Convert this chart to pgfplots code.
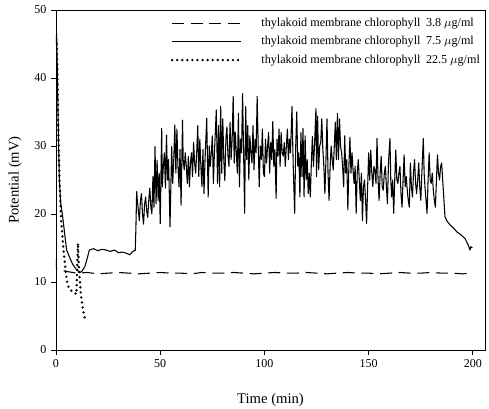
\documentclass[border=0pt]{standalone}
\usepackage{pgfplots}
\pgfplotsset{compat=1.18}
\usepackage{fontspec}
\setmainfont{Liberation Serif}

% chlorophyll 3.8 ug/ml
\newcommand{\lowdata}{
(0,13.5) (0.3,11.8) (3,11.7) (6,11.5) (10,11.3) (15,11.4) (20,11.2) (25,11.3)
(30,11.4) (35,11.3) (40,11.2) (45,11.3) (50,11.4) (55,11.3) (60,11.3) (65,11.2)
(70,11.4) (75,11.3) (80,11.3) (85,11.4) (90,11.3) (95,11.2) (100,11.3) (105,11.4)
(110,11.3) (115,11.3) (120,11.4) (125,11.3) (130,11.2) (135,11.3) (140,11.4)
(145,11.3) (150,11.3) (155,11.2) (160,11.3) (165,11.4) (170,11.3) (175,11.3)
(180,11.4) (185,11.3) (190,11.3) (195,11.2) (200,11.3)
}

% chlorophyll 7.5 ug/ml
\newcommand{\middata}{
(0,45) (0.3,46.6) (0.8,38) (1.2,31) (1.6,25) (2.3,21.5) (3.2,19.6) (4.2,17)
(5.1,14.7) (6.7,13.5) (8,12.6) (9.9,11.8) (11.5,11.4) (12.5,11.6) (13.9,12.3)
(15,13.5) (16,14.7) (18,14.9) (20,14.6) (22,14.8) (24,14.7) (26,14.5) (28,14.7)
(30,14.3) (32,14.4) (34,14.2) (35.5,14.0) (36.5,14.4) (37.5,14.6) (38,14.6)
(38.3,17.5) (38.7,23.3) (39,22.0) (39.5,20.5) (40,19.0) (40.5,22.0) (41,23.0)
(41.5,20.0) (42,18.5) (42.5,21.5) (43,22.5) (43.5,20.5) (44,19.5) (44.5,22.0)
(45,23.8) (45.5,21.0) (46,20.0) (46.5,25.5) (47,21.0) (47.5,29.9) (48,21.5)
(48.5,27.9) (49,22.0) (49.5,26.0) (50,18.6) (50.7,32.6) (51,24.0) (51.5,27.0)
(52,29.0) (52.5,23.8) (53,31.6) (53.5,25.0) (54,28.0) (54.7,18.1) (55.5,29.9)
(56,24.5) (56.5,28.0) (57,33.1) (57.5,26.0) (58,32.5) (58.5,27.0) (59,24.0)
(59.5,29.5) (60,21.3) (60.7,33.8) (61,28.0) (61.5,26.5) (62,29.0) (62.5,27.0)
(63,24.5) (63.5,28.5) (64,24.0) (64.5,27.5) (65,29.0) (65.5,25.5) (66,30.5)
(66.5,27.5) (67,26.0) (67.5,29.0) (68,33.0) (68.5,25.5) (69,31.0) (69.5,27.0)
(70,24.0) (70.5,29.5) (71,23.0) (71.5,28.0) (72.3,34.1) (73,22.5) (73.5,30.0)
(74,27.0) (74.5,29.0) (75,31.5) (75.5,24.5) (76,29.0) (76.9,35.3) (77.5,24.5)
(78,33.0) (78.5,24.0) (79,35.8) (79.5,26.0) (80,34.0) (80.5,28.0) (81,24.9)
(81.5,31.0) (82,32.8) (82.5,28.5) (83,27.0) (83.5,33.5) (84,28.0) (84.5,31.0)
(85,37.3) (85.5,27.5) (86,32.0) (86.5,29.0) (87,26.0) (87.5,34.8) (88,24.0)
(88.5,31.0) (89,29.0) (89.5,37.7) (90.5,20.1) (91,35.8) (91.5,28.0) (92,33.0)
(92.5,25.0) (93,31.5) (93.5,29.0) (94,27.5) (94.5,33.0) (95,26.5) (95.5,31.0)
(96,29.0) (96.5,37.3) (97,30.0) (97.5,24.0) (98,30.0) (98.5,28.0) (99,32.5)
(99.5,26.0) (100,25.5) (100.5,31.0) (101,27.5) (101.5,30.0) (102,32.0)
(102.5,26.0) (103,30.5) (103.5,28.0) (104,33.6) (104.5,27.0) (105,29.5)
(105.6,22.3) (106,31.0) (106.5,28.5) (107,32.5) (107.5,27.0) (108,32.0)
(108.5,29.0) (109,28.5) (109.5,30.5) (110,27.0) (110.5,30.0) (111,32.5)
(111.5,28.0) (112,31.0) (112.5,29.0) (113.2,35.8) (113.8,27.0) (114.5,20.1)
(115,30.0) (115.5,35.0) (116,27.0) (116.5,29.0) (117,22.5) (117.5,32.0)
(118,25.5) (118.5,32.6) (119,22.5) (119.5,31.5) (120,25.0) (120.5,28.0)
(121,23.0) (121.5,26.0) (122,22.5) (122.5,27.5) (123,31.4) (123.5,27.0)
(124,30.0) (124.7,35.5) (125,25.5) (125.5,34.4) (126,26.5) (126.5,30.0)
(127,30.5) (127.5,34.0) (128,29.5) (128.5,27.0) (129,23.0) (129.5,28.0)
(130,34.0) (130.5,26.0) (131,22.0) (131.5,27.0) (132,30.0) (132.5,28.0)
(133,26.5) (133.5,30.0) (134,33.5) (134.5,28.0) (135,34.8) (135.5,28.0)
(136,34.0) (136.5,30.0) (137,29.0) (137.5,27.0) (138,24.0) (138.5,31.5)
(139,26.0) (139.5,28.0) (140,20.6) (140.5,27.0) (141,31.3) (141.5,26.0)
(142,29.0) (142.5,26.5) (143,24.5) (143.5,27.0) (144,20.1) (144.5,26.0)
(145,28.0) (145.5,25.0) (146,22.0) (146.5,26.0) (147,19.0) (147.5,24.0)
(148,25.0) (148.5,22.0) (149,18.6) (149.5,24.0) (150,29.0) (150.5,25.0)
(151,29.4) (151.5,26.0) (152,24.0) (152.5,27.0) (153,26.5) (153.5,24.5)
(154,31.1) (154.5,25.0) (155,22.0) (155.5,26.0) (156,28.5) (156.5,24.0)
(157,23.5) (157.5,26.0) (158,27.0) (158.5,24.0) (159,21.5) (159.5,27.5)
(160.2,31.1) (160.6,25.0) (161,22.5) (161.5,25.0) (162,20.1) (162.5,25.0)
(163,29.4) (163.5,25.0) (164,24.5) (164.5,26.0) (165,27.0) (165.5,23.0)
(166,21.0) (166.5,25.0) (167,28.7) (167.5,24.0) (168,25.5) (168.5,23.5)
(169,22.0) (169.5,21.0) (170,27.5) (170.5,24.0) (171,22.5) (171.5,26.0)
(172,28.0) (172.5,24.5) (173,23.0) (173.5,25.0) (174,27.5) (174.5,24.0)
(175,22.0) (175.5,26.0) (176.2,31.1) (176.6,26.0) (177,24.0) (177.5,22.0)
(178,20.1) (178.5,25.0) (179,29.0) (179.5,25.0) (180,24.5) (180.5,26.0)
(181,23.5) (181.5,22.0) (182,21.0) (182.5,25.0) (183,28.7) (183.5,26.0)
(184,25.0) (184.5,27.0) (185,27.5) (185.8,23.5) (186.6,19.6) (187.5,19.0)
(189,18.4) (190.5,18.0) (192.2,17.4) (194,17.0) (196.2,16.4) (197,15.9)
(197.8,15.4) (198.6,14.7) (199,15.2) (199.7,15.0)
}

% chlorophyll 22.5 ug/ml
\newcommand{\highdata}{
(0.4,45) (0.8,38) (1.2,31) (1.7,25) (2.3,20) (3,17) (3.7,14.5) (4.5,12)
(5.2,10.2) (6,9.3) (7,8.8) (8,8.6) (9,8.4) (9.8,8.2) (10.5,15.7) (11,12)
(11.5,10) (12,8) (12.7,6.5) (13.5,5) (14,4.5)
}

\begin{document}
\begin{tikzpicture}
\begin{axis}[
    scale only axis,
    width=321.75pt,
    height=255pt,
    xmin=0, xmax=205.8,
    ymin=0, ymax=50,
    xtick={0,50,100,150,200},
    ytick={0,10,20,30,40,50},
    tick align=outside,
    xtick pos=bottom,
    ytick pos=left,
    major tick length=3.75pt,
    axis line style={line width=0.7pt},
    every tick/.style={black, line width=0.7pt},
    /pgf/number format/assume math mode=true,
    ticklabel style={font=\fontsize{9}{10}\selectfont},
    xlabel={Time (min)},
    ylabel={Potential (mV)},
    label style={font=\fontsize{11}{13}\selectfont},
    xlabel style={at={(axis description cs:0.5,-0.147)}, anchor=center},
    ylabel style={at={(axis description cs:-0.0956,0.5)}, anchor=center, rotate=0},
    legend style={at={(axis description cs:0.995,0.985)}, anchor=north east,
        draw=none, fill=none, font=\fontsize{9.1}{10.5}\selectfont,
        row sep=2pt, inner sep=0pt},
    legend cell align=left,
    legend image code/.code={\draw[#1] (0pt,0pt) -- (52pt,0pt); \path (64pt,0pt);},
]
\addplot[black, line width=0.8pt, dash pattern=on 9pt off 5pt] coordinates {\lowdata};
\addlegendentry{thylakoid membrane chlorophyll\hspace{0.45em}3.8 $\mu$g/ml}
\addplot[black, line width=0.8pt, line join=round] coordinates {\middata};
\addlegendentry{thylakoid membrane chlorophyll\hspace{0.45em}7.5 $\mu$g/ml}
\addplot[black, line width=2pt, line cap=round, dash pattern=on 0pt off 3.8pt] coordinates {\highdata};
\addlegendentry{thylakoid membrane chlorophyll\hspace{0.45em}22.5 $\mu$g/ml}
\end{axis}
\pgfresetboundingbox
\path[use as bounding box] ([shift={(-42pt,-44.25pt)}]current axis.south west)
    rectangle ([shift={(3pt,7.5pt)}]current axis.north east);
\end{tikzpicture}
\end{document}
